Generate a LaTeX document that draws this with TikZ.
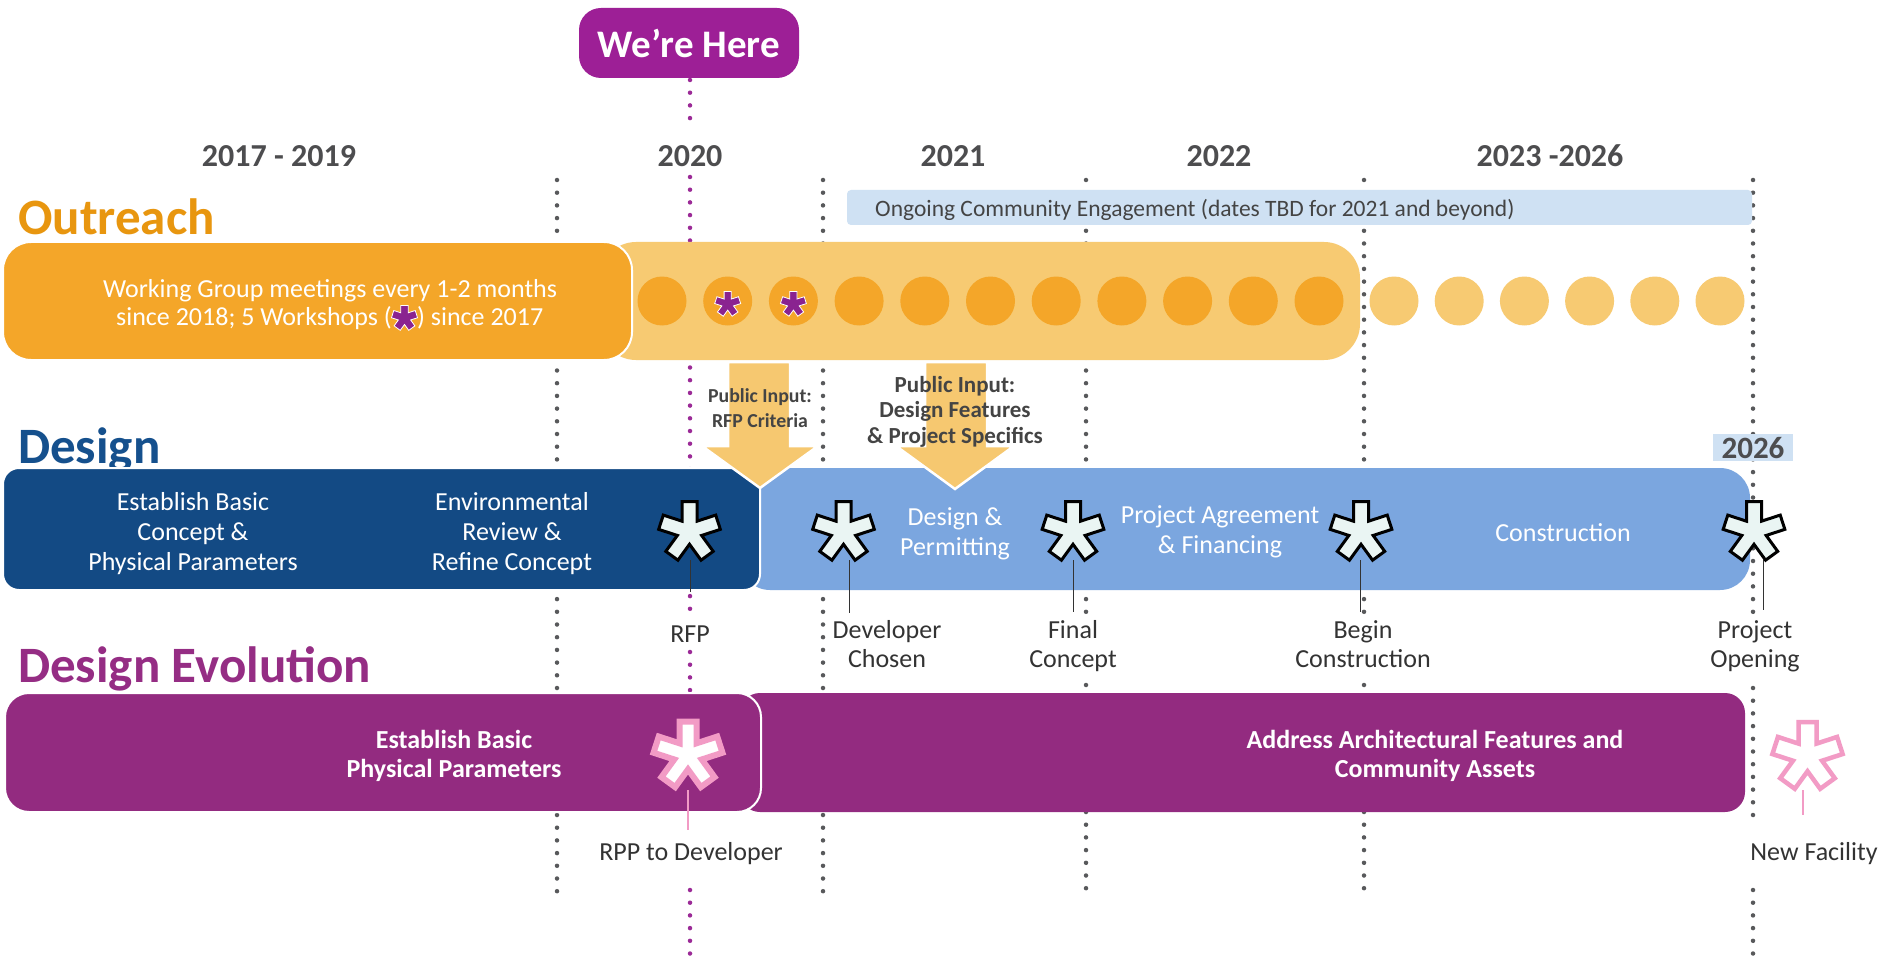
\documentclass[tikz,border=0pt]{standalone}
\usepackage{fontspec}
\setmainfont{Carlito}
\definecolor{dorange}{HTML}{F4A629}
\definecolor{lorange}{HTML}{F7CA72}
\definecolor{horange}{HTML}{E8960F}
\definecolor{dblue}{HTML}{134A84}
\definecolor{lblue}{HTML}{7BA6DF}
\definecolor{hblue}{HTML}{15508D}
\definecolor{purp}{HTML}{932B80}
\definecolor{hpurp}{HTML}{952D84}
\definecolor{here}{HTML}{9D1F96}
\definecolor{engage}{HTML}{CFE1F3}
\definecolor{yeargray}{HTML}{4D4D4F}
\definecolor{labgray}{HTML}{333333}
\definecolor{pingray}{HTML}{444444}
\definecolor{dotgray}{HTML}{58595B}
\definecolor{dotpurp}{HTML}{9B2A97}
\definecolor{astpurp}{HTML}{8A2390}
\definecolor{pinkast}{HTML}{F29BC5}
\definecolor{astfill}{HTML}{EAF5F3}
\definecolor{arroworange}{HTML}{F6C870}
\newcommand\mlt[1]{\begin{tabular}[t]{@{}c@{}}#1\end{tabular}}
\newcommand\drawast[5]{%
  \pgfmathsetmacro\astR{sqrt((#4)*(#4)+(#5)*(#5))}%
  \pgfmathsetmacro\astA{atan((#5)/(#4))}%
  \pgfmathsetmacro\astI{(#5)/sin(36)}%
  \begin{scope}[shift={(#2,#3)}]
  \path[#1] ({90-\astA}:{\astR pt})
    \foreach \k in {0,...,4}{
      -- ({90+72*\k+\astA}:{\astR pt})
      -- ({126+72*\k}:{\astI pt})
      -- ({162+72*\k-\astA}:{\astR pt})
    } -- cycle;
  \end{scope}}
\tikzset{
  header/.style={anchor=base west, font=\fontsize{51}{51}\selectfont\bfseries, inner sep=0pt},
  year/.style={anchor=base, font=\fontsize{32}{32}\selectfont\bfseries, text=yeargray, inner sep=0pt},
  bartext/.style={anchor=base, font=\fontsize{26}{30}\selectfont, text=white, inner sep=0pt},
  evotext/.style={anchor=base, font=\fontsize{26}{29}\selectfont\bfseries, text=white, inner sep=0pt},
  milestone/.style={anchor=base, font=\fontsize{26}{29}\selectfont, text=labgray, inner sep=0pt},
  pinsmall/.style={anchor=base, font=\fontsize{19.8}{25}\selectfont\bfseries, text=pingray, inner sep=0pt},
  pinlarge/.style={anchor=base, font=\fontsize{23}{25.5}\selectfont\bfseries, text=pingray, inner sep=0pt},
  gdots/.style={draw=dotgray, line width=4.5pt, line cap=round, dash pattern=on 0pt off 12.7pt},
  pdots/.style={gdots, draw=dotpurp},
  tick/.style={draw=labgray, line width=1pt},
  pinktick/.style={draw=pinkast, line width=1.3pt},
  arrowshape/.style={fill=arroworange, draw=white, line width=2.5pt, line join=miter},
  designast/.style={fill=astfill, draw=black, line width=3pt, line join=miter},
  pinkstar/.style={fill=white, draw=pinkast, line width=6pt, line join=miter},
  purpstar/.style={fill=astpurp, draw=white, line width=0.8pt, line join=miter},
}
\begin{document}
\begin{tikzpicture}[x=1pt,y=-1pt]
\useasboundingbox (0,0) rectangle (1880,960);
\fill[white] (0,0) rectangle (1880,960);

% dotted guide lines
\draw[gdots] (557,180) -- (557,897);
\draw[gdots] (823,180) -- (823,897);
\draw[gdots] (1086,180) -- (1086,615);
\draw[gdots] (1086,685) -- (1086,897);
\draw[gdots] (1364,180) -- (1364,615);
\draw[gdots] (1364,685) -- (1364,897);
\draw[gdots] (1753,180) -- (1753,613);
\draw[gdots] (1753,688) -- (1753,815);
\draw[gdots] (1753,890) -- (1753,960);
\draw[pdots] (690,80) -- (690,130);
\draw[pdots] (690,177) -- (690,615);
\draw[pdots] (690,652) -- (690,700);
\draw[pdots] (690,890) -- (690,960);

% We're Here
\path[fill=here, rounded corners=22pt] (579,8) rectangle (799,78);
\node[anchor=base, font=\fontsize{39}{39}\selectfont\bfseries, text=white, inner sep=0pt] (here) at (689,58) {We’re Here};

% years
\node[year] (y1) at (279,167) {2017 - 2019};
\node[year] (y2) at (690,167) {2020};
\node[year] (y3) at (953,167) {2021};
\node[year] (y4) at (1219,167) {2022};
\node[year] (y5) at (1550,167) {2023 -2026};

% headers
\node[header, text=horange] (hout) at (18,235) {Outreach};
\node[header, text=hblue] (hdes) at (18,463) {Design};
\node[header, text=hpurp] (hevo) at (18,682) {Design Evolution};

% engagement bar
\path[fill=engage, rounded corners=4pt] (847,190) rectangle (1752,225);
\node[anchor=base west, font=\fontsize{23.5}{23.5}\selectfont, text=pingray, inner sep=0pt] (eng) at (875,217) {Ongoing Community Engagement (dates TBD for 2021 and beyond)};

% outreach bars
\path[fill=lorange, rounded corners=36pt] (600,242) rectangle (1360,360);
\path[fill=dorange, draw=white, line width=2pt, rounded corners=28pt] (3,242) rectangle (632,360);
\foreach \i in {0,...,10} \fill[dorange] ({662+65.7*\i},301) circle[radius=24.5pt];
\foreach \i in {0,...,5} \fill[lorange] ({1394+65.2*\i},301) circle[radius=24.5pt];
\drawast{purpstar}{727.7}{304}{12.5}{3.6}
\drawast{purpstar}{793.4}{304}{12.5}{3.6}
\node[anchor=base, font=\fontsize{26}{28}\selectfont, text=white, inner sep=0pt] (out1) at (330,297) {Working Group meetings every 1-2 months};
\node[anchor=base east, font=\fontsize{26}{28}\selectfont, text=white, inner sep=0pt] (out2a) at (392,325) {since 2018; 5 Workshops (};
\node[anchor=base west, font=\fontsize{26}{28}\selectfont, text=white, inner sep=0pt] (out2b) at (417,325) {) since 2017};
\drawast{purpstar}{404.5}{318}{12.5}{3.8}

% design bars
\path[fill=lblue, rounded corners=30pt] (740,468) rectangle (1750,590);
\path[fill=dblue, draw=white, line width=2pt, rounded corners=16pt] (3,468) rectangle (760,590);
\path[arrowshape] (728,362) -- (790,362) -- (790,446) -- (818,446) -- (760,488) -- (702,446) -- (728,446) -- cycle;
\path[arrowshape] (925,362) -- (987,362) -- (987,446) -- (1014,446) -- (955,489) -- (896,446) -- (925,446) -- cycle;
\node[pinsmall] (pin1) at (760,402) {\mlt{Public Input:\\RFP Criteria}};
\node[pinlarge] (pin2) at (955,392) {\mlt{Public Input:\\Design Features\\\& Project Specifics}};

\node[bartext] (d1) at (193,510) {\mlt{Establish Basic\\Concept \&\\Physical Parameters}};
\node[bartext] (d2) at (512,510) {\mlt{Environmental\\Review \&\\Refine Concept}};
\node[bartext] (d3) at (955,525) {\mlt{Design \&\\Permitting}};
\node[bartext] (d4) at (1220,523) {\mlt{Project Agreement\\\& Financing}};
\node[bartext] (d5) at (1563,541) {Construction};

% 2026 tag
\path[fill=engage] (1713,434) rectangle (1793,461);
\node[anchor=base, font=\fontsize{31}{31}\selectfont\bfseries, text=yeargray, inner sep=0pt] (y2026) at (1753,458) {2026};

% milestone ticks and asterisks
\coordinate (t1) at (690,560);
\coordinate (t2) at (849,560);
\coordinate (t3) at (1073,560);
\coordinate (t4) at (1360,560);
\coordinate (t5) at (1763,560);
\draw[tick] (t1) -- (690,592);
\draw[tick] (t2) -- (849,613);
\draw[tick] (t3) -- (1073,612);
\draw[tick] (t4) -- (1360,612);
\draw[tick] (t5) -- (1763,610);
\drawast{designast}{689.5}{531.5}{30}{7.5}
\drawast{designast}{843.5}{531.5}{30}{7.5}
\drawast{designast}{1073}{531.5}{30}{7.5}
\drawast{designast}{1361}{531.5}{30}{7.5}
\drawast{designast}{1754}{531.5}{30}{7.5}

\node[milestone] (m1) at (690,642) {RFP};
\node[milestone] (m2) at (887,638) {\mlt{Developer\\Chosen}};
\node[milestone] (m3) at (1073,638) {\mlt{Final\\Concept}};
\node[milestone] (m4) at (1363,638) {\mlt{Begin\\Construction}};
\node[milestone] (m5) at (1755,638) {\mlt{Project\\Opening}};

% design evolution bars
\path[fill=purp, rounded corners=20pt] (740,693) rectangle (1745,812);
\path[fill=purp, draw=white, line width=2pt, rounded corners=24pt] (5,693) rectangle (761,812);
\node[evotext] (e1) at (454,748) {\mlt{Establish Basic\\Physical Parameters}};
\node[evotext] (e2) at (1435,748) {\mlt{Address Architectural Features and\\Community Assets}};

\coordinate (p1) at (688,790);
\coordinate (p2) at (1803,790);
\draw[pinktick] (p1) -- (688,830);
\draw[pinktick] (p2) -- (1803,815);
\drawast{pinkstar}{688}{755}{33.5}{8.5}
\drawast{pinkstar, line width=4.5pt}{1807.5}{756}{34}{9}

\node[milestone] (m6) at (691,860) {RPP to Developer};
\node[milestone] (m7) at (1814,860) {New Facility};
\end{tikzpicture}
\end{document}
